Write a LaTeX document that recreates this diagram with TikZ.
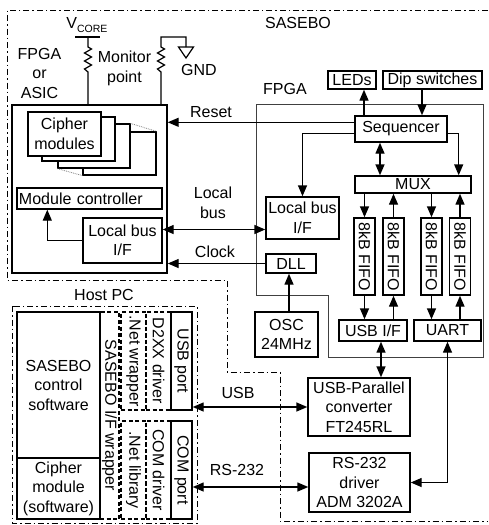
\documentclass[tikz,border=0pt]{standalone}
\usepackage{fontspec}
\setmainfont{Liberation Sans}
\usepackage{graphicx}
\usetikzlibrary{arrows.meta,calc}
\begin{document}
\begin{tikzpicture}[x=1pt,y=-1pt,
  font=\fontsize{16}{19.5}\selectfont,
  wh/.style 2 args={minimum width=#1pt,minimum height=#2pt},
  box/.style={draw,line width=1.4pt,fill=white,inner sep=0pt,align=center},
  dbox/.style={draw,line width=1.2pt,dash pattern=on 4pt off 2.5pt,inner sep=0pt,align=center},
  arr/.style={line width=1.4pt,-{Triangle[length=11pt,width=9pt]}},
  darr/.style={line width=1.4pt,{Triangle[length=11pt,width=9pt]}-{Triangle[length=11pt,width=9pt]}},
  dashdot/.style={line width=1pt,dash pattern=on 6pt off 3pt on 1.5pt off 3pt},
  wire/.style={line width=1.2pt},
  lbl/.style={inner sep=0pt,align=center}]
\useasboundingbox (0,0) rectangle (488,525);

% SASEBO board boundary
\draw[dashdot] (488,10) -- (7,10) -- (7,280) -- (227,280) -- (227,372) -- (280,372) -- (280,521) -- (488,521);
\node[lbl] (sasebo) at (298,23) {SASEBO};

% FPGA outline
\draw[line width=0.8pt,black!75] (256,104) -- (483,104) -- (483,357) -- (328,357) -- (328,295) -- (256,295) -- cycle;
\node[lbl] (fpgalbl) at (285,89) {FPGA};

% FPGA or ASIC
\node[box,wh={155}{168}] (fpgaasic) at (89.5,189) {};
\node[lbl] (fa) at (39.5,73) {FPGA\\or\\ASIC};
\node[lbl] (mon) at (124.5,68.5) {Monitor\\point};
\node[lbl] (gnd) at (199,70) {GND};
\node[lbl,anchor=base] (vcore) at (87,28) {V\raisebox{-4pt}{\fontsize{10.5}{10.5}\selectfont CORE}};

% resistors
\draw[wire] (75,37) -- (100,37);
\coordinate (r1) at (88,72);
\draw[wire] (88,37) -- (88,47) -- (91.5,49) -- (84.5,53) -- (91.5,57) -- (84.5,61) -- (91.5,65) -- (84.5,69) -- (r1) -- (r1 |- fpgaasic.north);
\coordinate (r2) at (161,72);
\draw[wire] (186,47) -- (186,37) -- (161,37) -- (161,47) -- (164.5,49) -- (157.5,53) -- (164.5,57) -- (157.5,61) -- (164.5,65) -- (157.5,69) -- (r2) -- (r2 |- fpgaasic.north);
\draw[wire] (178.5,47) -- (193.5,47) -- (186,58) -- cycle;

% cipher modules stack
\node[box,line width=1.2pt,wh={73}{43}] (c3) at (119.5,153.5) {};
\node[box,line width=1.2pt,wh={72}{44}] (c2) at (94,146) {};
\node[box,line width=1.2pt,wh={73}{44}] (c1) at (78.5,139) {};
\node[box,line width=1.2pt,wh={73}{44}] (c0) at (64.5,134) {Cipher\\modules};
\draw[densely dotted,gray,line width=0.8pt] (c2.north east) -- (c3.north east) (c2.south west) -- (c3.south west);

\node[box,text width=141pt,align=left,inner xsep=2pt,minimum height=21pt] (modctrl) at (89.5,198.5) {Module controller};
\node[box,wh={79}{45}] (lbifL) at (122.5,240.5) {Local bus\\I/F};

% FPGA internals
\node[box,wh={92}{26}] (seq) at (401,129) {Sequencer};
\node[box,wh={48}{18}] (leds) at (352,80) {LEDs};
\node[box,wh={99}{18}] (dip) at (432.5,80) {Dip switches};
\node[box,wh={116}{17}] (mux) at (413,184.5) {MUX};
\node[box,wh={73}{42}] (lbifR) at (302.5,218) {Local bus\\I/F};
\node[box,wh={50}{19}] (dll) at (291,263.5) {DLL};
\node[box,wh={63}{45}] (osc) at (286.5,334.5) {OSC\\24MHz};
\node[box,wh={21}{77}] (f1) at (364.5,256.5) {\rotatebox{-90}{8kB FIFO}};
\node[box,wh={21}{77}] (f2) at (393.5,256.5) {\rotatebox{-90}{8kB FIFO}};
\node[box,wh={21}{77}] (f3) at (431.5,256.5) {\rotatebox{-90}{8kB FIFO}};
\node[box,wh={21}{77}] (f4) at (460,256.5) {\rotatebox{-90}{8kB FIFO}};
\node[box,wh={68}{21}] (usbif) at (373,330.5) {USB I/F};
\node[box,wh={67}{21}] (uart) at (447.5,330.5) {UART};
\node[box,wh={102}{58}] (conv) at (359,407) {USB-Parallel\\converter\\FT245RL};
\node[box,wh={101}{59}] (drv) at (359.5,482.5) {RS-232\\driver\\ADM 3202A};

% Host PC
\draw[dashdot] (12,306) rectangle (197,523);
\node[lbl] (hostpc) at (104,295) {Host PC};
\node[dbox,wh={19}{207}] (wrap) at (109.5,415.5) {\rotatebox{-90}{SASEBO I/F wrapper}};
\node[dbox,wh={25}{98}] (netw) at (133.5,361) {\rotatebox{-90}{.Net wrapper}};
\node[dbox,wh={25}{98}] (d2xx) at (158.5,361) {\rotatebox{-90}{D2XX driver}};
\node[dbox,wh={25}{98}] (netl) at (133.5,470) {\rotatebox{-90}{.Net library}};
\node[dbox,wh={25}{98}] (comd) at (158.5,470) {\rotatebox{-90}{COM driver}};
\node[box,wh={21}{98}] (usbp) at (181.5,361) {\rotatebox{-90}{USB port}};
\node[box,wh={21}{98}] (comp) at (181.5,470) {\rotatebox{-90}{COM port}};
\node[box,wh={83}{146}] (ctrl) at (58.5,385) {SASEBO\\control\\software};
\node[box,wh={83}{61}] (csw) at (58.5,488.5) {Cipher\\module\\(software)};

% labels on connectors
\node[lbl] (reset) at (211,112) {Reset};
\node[lbl] (lbus) at (213,203) {Local\\bus};
\node[lbl] (clk) at (215,252) {Clock};
\node[lbl] (usblbl) at (238,393) {USB};
\node[lbl] (rslbl) at (237,470) {RS-232};

% connectors
\coordinate (rs) at ([yshift=-7pt]seq.north west);
\draw[arr] (rs) -- (rs -| fpgaasic.east);
\coordinate (ld) at ([xshift=-37pt]seq.north);
\draw[arr] (ld) -- (ld |- leds.south);
\coordinate (dp) at ([xshift=-10.5pt]dip.south);
\draw[arr] (dp) -- (dp |- seq.north);
\draw[arr] ([yshift=-18pt]seq.north west) -| (lbifR.north);
\coordinate (sm) at ([xshift=-21pt]seq.south);
\draw[darr] (sm) -- (sm |- mux.north);
\draw[arr] ([yshift=-18pt]seq.north east) -| ([xshift=-13pt]mux.north east);
\coordinate (lb) at ([yshift=11pt]lbifL.east);
\draw[darr] (lb) -- (lb -| lbifR.west);
\draw[arr] (dll.west) -- (dll.west -| fpgaasic.east);
\coordinate (od) at ([xshift=2.5pt]osc.north);
\draw[arr] (od) -- (od |- dll.south);
\draw[arr] (f1.north |- mux.south) -- (f1.north);
\draw[arr] (f2.north) -- (f2.north |- mux.south);
\draw[arr] (f3.north |- mux.south) -- (f3.north);
\draw[arr] (f4.north) -- (f4.north |- mux.south);
\draw[arr] (f1.south) -- (f1.south |- usbif.north);
\draw[arr] (f2.south |- usbif.north) -- (f2.south);
\draw[arr] (f3.south) -- (f3.south |- uart.north);
\draw[arr] (f4.south |- uart.north) -- (f4.south);
\coordinate (uc) at ([xshift=8pt]usbif.south);
\draw[darr] (uc) -- (uc |- conv.north);
\draw[darr] (uart.south) |- (drv.east);
\draw[darr] (usbp.east |- conv.west) -- (conv.west);
\coordinate (rc) at ([yshift=-4.5pt]drv.west);
\draw[darr] (comp.east |- rc) -- (rc);
\coordinate (lm) at ([xshift=-35pt]lbifL.west);
\draw[arr] (lbifL.west) -- (lm) -- (lm |- modctrl.south);
\end{tikzpicture}
\end{document}
